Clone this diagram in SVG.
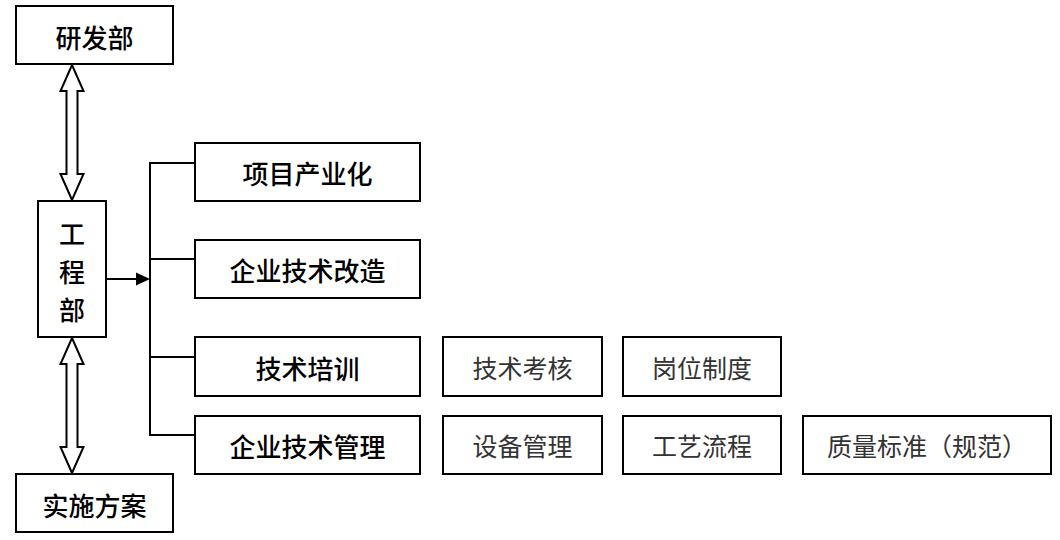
<svg xmlns="http://www.w3.org/2000/svg" width="1060" height="540" viewBox="0 0 1060 540">
<style>
.box{fill:#fff;stroke:#000;stroke-width:2}
.t{font-family:"Noto Sans CJK SC","Noto Sans",sans-serif;font-size:26px;text-anchor:middle;dominant-baseline:central}
.b{font-weight:500;fill:#000}
.n{font-weight:normal;fill:#333;font-size:25px}
.ln{fill:none;stroke:#000;stroke-width:2}
.dbl{fill:#fff;stroke:#000;stroke-width:2;stroke-linejoin:miter}
</style>
<rect width="1060" height="540" fill="#fff"/>
<g id="connectors">
<polygon class="dbl" points="72,65 83.5,91 77.5,91 77.5,174 83.5,174 72,200 60.5,174 66.5,174 66.5,91 60.5,91"/>
<polygon class="dbl" points="72,338 83.5,364 77.5,364 77.5,447 83.5,447 72,473 60.5,447 66.5,447 66.5,364 60.5,364"/>
<line class="ln" x1="106" y1="279" x2="138" y2="279"/>
<polygon points="136,272.5 150,279 136,285.5" fill="#000"/>
<polyline class="ln" points="195,163 150,163 150,435 195,435"/>
<line class="ln" x1="150" y1="259" x2="195" y2="259"/>
<line class="ln" x1="150" y1="357" x2="195" y2="357"/>
</g>
<g id="yanfabu"><rect class="box" x="16" y="6" width="157" height="58"/><text class="t b" x="94.5" y="36">研发部</text></g>
<g id="gongchengbu"><rect class="box" x="38" y="201" width="68" height="136"/>
<text class="t b" x="72" y="232">工</text><text class="t b" x="72" y="270">程</text><text class="t b" x="72" y="308">部</text></g>
<g id="shishifangan"><rect class="box" x="16" y="474" width="157" height="58"/><text class="t b" x="94.5" y="504">实施方案</text></g>
<g id="xiangmu"><rect class="box" x="195" y="143" width="225" height="58"/><text class="t b" x="307.5" y="172">项目产业化</text></g>
<g id="gaizao"><rect class="box" x="195" y="240" width="225" height="58"/><text class="t b" x="307.5" y="269">企业技术改造</text></g>
<g id="peixun"><rect class="box" x="195" y="337" width="225" height="59"/><text class="t b" x="307.5" y="367">技术培训</text></g>
<g id="guanli"><rect class="box" x="195" y="416" width="225" height="58"/><text class="t b" x="307.5" y="445">企业技术管理</text></g>
<g id="kaohe"><rect class="box" x="443" y="337" width="159" height="59"/><text class="t n" x="522.5" y="367">技术考核</text></g>
<g id="zhidu"><rect class="box" x="623" y="337" width="158" height="59"/><text class="t n" x="702" y="367">岗位制度</text></g>
<g id="shebei"><rect class="box" x="443" y="416" width="159" height="58"/><text class="t n" x="522.5" y="445">设备管理</text></g>
<g id="liucheng"><rect class="box" x="623" y="416" width="158" height="58"/><text class="t n" x="702" y="445">工艺流程</text></g>
<g id="zhiliang"><rect class="box" x="803" y="416" width="248" height="58"/><text class="t n" x="927" y="445">质量标准（规范）</text></g>
</svg>
